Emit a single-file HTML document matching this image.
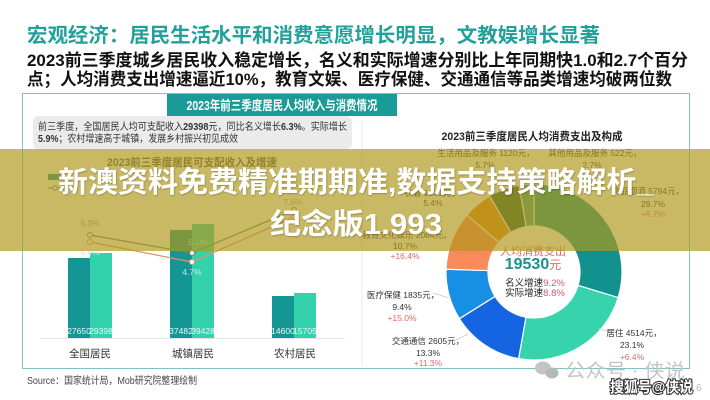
<!DOCTYPE html>
<html>
<head>
<meta charset="utf-8">
<style>
  html,body{margin:0;padding:0;background:#fff;}
  body{width:710px;height:400px;overflow:hidden;}
  svg{display:block;}
  text{font-family:"Liberation Sans","Noto Sans CJK SC",sans-serif;}
</style>
</head>
<body>
<svg width="710" height="400" viewBox="0 0 710 400" xmlns="http://www.w3.org/2000/svg">
  <defs>
    <filter id="sh" x="-5%" y="-20%" width="110%" height="140%">
      <feDropShadow dx="0.6" dy="0.8" stdDeviation="0.8" flood-color="#000" flood-opacity="0.3"/>
    </filter>
  </defs>
  <rect x="0" y="0" width="710" height="400" fill="#ffffff"/>

  <!-- Title -->
  <text x="27" y="42" font-size="20" font-weight="bold" fill="#22a09a" textLength="573" lengthAdjust="spacingAndGlyphs">宏观经济：居民生活水平和消费意愿增长明显，文教娱增长显著</text>
  <text x="27" y="66" font-size="17" font-weight="bold" fill="#111" textLength="661" lengthAdjust="spacingAndGlyphs">2023前三季度城乡居民收入稳定增长，名义和实际增速分别比上年同期快1.0和2.7个百分</text>
  <text x="27" y="85" font-size="17" font-weight="bold" fill="#111" textLength="645" lengthAdjust="spacingAndGlyphs">点；人均消费支出增速逼近10%，教育文娱、医疗保健、交通通信等品类增速均破两位数</text>

  <!-- Main box -->
  <rect x="22.5" y="93.5" width="667" height="275" fill="none" stroke="#7fc2c3" stroke-width="1"/>
  <rect x="167" y="94" width="230" height="22" fill="#1a9b98"/>
  <text x="282" y="110" font-size="13" font-weight="bold" fill="#fff" text-anchor="middle" textLength="191" lengthAdjust="spacingAndGlyphs">2023年前三季度居民人均收入与消费情况</text>

  <!-- Gray note box -->
  <rect x="33" y="116" width="319" height="33" rx="5" fill="#ebebeb"/>
  <text x="38" y="130" font-size="10" fill="#333" textLength="309" lengthAdjust="spacingAndGlyphs">前三季度，全国居民人均可支配收入<tspan font-weight="bold">29398</tspan>元，同比名义增长<tspan font-weight="bold">6.3%</tspan>。实际增长</text>
  <text x="38" y="142" font-size="10" fill="#333" textLength="200" lengthAdjust="spacingAndGlyphs"><tspan font-weight="bold">5.9%</tspan>；农村增速高于城镇，发展乡村振兴初见成效</text>

  <!-- Left chart -->
  <text x="192" y="166" font-size="11" font-weight="bold" fill="#555" text-anchor="middle" textLength="170" lengthAdjust="spacingAndGlyphs">2023前三季度居民可支配收入及增速</text>
  <rect x="48" y="174" width="13" height="6" fill="#139694"/>
  <line x1="48" y1="188" x2="62" y2="188" stroke="#6a8a68" stroke-width="1.2"/>
  <circle cx="55" cy="188" r="2.3" fill="#fff" stroke="#6a8a68" stroke-width="1"/>

  <line x1="40" y1="338.5" x2="345" y2="338.5" stroke="#e6e6e6" stroke-width="1"/>
  <!-- bars -->
  <rect x="68" y="258" width="22" height="80" fill="#149794"/>
  <rect x="90" y="253" width="22" height="85" fill="#34d1ad"/>
  <rect x="170" y="230" width="22" height="108" fill="#149794"/>
  <rect x="192" y="224" width="22" height="114" fill="#34d1ad"/>
  <rect x="272" y="296" width="22" height="42" fill="#149794"/>
  <rect x="294" y="293" width="22" height="45" fill="#34d1ad"/>
  <g font-size="8.5" fill="#e8fbf6" text-anchor="middle">
    <text x="79" y="334">27650</text>
    <text x="101" y="334">29398</text>
    <text x="181" y="334">37482</text>
    <text x="203" y="334">39428</text>
    <text x="283" y="334">14600</text>
    <text x="305" y="334">15705</text>
  </g>
  <g font-size="10.5" fill="#333" text-anchor="middle">
    <text x="90" y="357">全国居民</text>
    <text x="193" y="357">城镇居民</text>
    <text x="295" y="357">农村居民</text>
  </g>
  <!-- lines -->
  <polyline points="90,235 192,253 294,210" fill="none" stroke="#6a8a68" stroke-width="1.3"/>
  <polyline points="90,242 192,262 294,217" fill="none" stroke="#e0956a" stroke-width="1.3"/>
  <g fill="#fff" stroke-width="1">
    <circle cx="90" cy="235" r="2.5" stroke="#6a8a68"/>
    <circle cx="192" cy="253" r="2.5" stroke="#6a8a68"/>
    <circle cx="294" cy="210" r="2.5" stroke="#6a8a68"/>
    <circle cx="90" cy="242" r="2.5" stroke="#e0956a"/>
    <circle cx="192" cy="262" r="2.5" stroke="#e0956a"/>
    <circle cx="294" cy="217" r="2.5" stroke="#e0956a"/>
  </g>
  <g font-size="8.5" text-anchor="middle">
    <text x="90" y="226" fill="#999">6.3%</text>
    <text x="90" y="255" fill="#bfe9e3">5.9%</text>
    <text x="198" y="245" fill="#bfe9e3">5.1%</text>
    <text x="192" y="275" fill="#bfe9e3">4.7%</text>
    <text x="293" y="205" fill="#999">7.6%</text>
  </g>

  <!-- Right chart -->
  <line x1="362" y1="120" x2="362" y2="366" stroke="#ececec" stroke-width="1"/>
  <text x="532" y="140" font-size="11" font-weight="bold" fill="#222" text-anchor="middle" textLength="181" lengthAdjust="spacingAndGlyphs">2023前三季度居民人均消费支出及构成</text>

  <g stroke="#fff" stroke-width="1.2">
    <path d="M534,184 A88,88 0 0 1 618.19,297.61 L578.01,285.39 A46,46 0 0 0 534,226 Z" fill="#12928f"/>
    <path d="M618.19,297.61 A88,88 0 0 1 518.60,358.64 L525.95,317.29 A46,46 0 0 0 578.01,285.39 Z" fill="#36d3ad"/>
    <path d="M518.60,358.64 A88,88 0 0 1 459.40,318.68 L495.01,296.40 A46,46 0 0 0 525.95,317.29 Z" fill="#1565e2"/>
    <path d="M459.40,318.68 A88,88 0 0 1 446.04,269.24 L488.02,270.56 A46,46 0 0 0 495.01,296.40 Z" fill="#178fe2"/>
    <path d="M446.04,269.24 A88,88 0 0 1 466.92,215.06 L498.93,242.23 A46,46 0 0 0 488.02,270.56 Z" fill="#fb8a5a"/>
    <path d="M466.92,215.06 A88,88 0 0 1 489.68,195.98 L510.83,232.26 A46,46 0 0 0 498.93,242.23 Z" fill="#e6871a"/>
    <path d="M489.68,195.98 A88,88 0 0 1 519.15,185.27 L526.24,226.66 A46,46 0 0 0 510.83,232.26 Z" fill="#1f5e3e"/>
    <path d="M519.15,185.27 A88,88 0 0 1 534,184 L534,226 A46,46 0 0 0 526.24,226.66 Z" fill="#3f9e7e"/>
  </g>

  <!-- center texts -->
  <text x="533" y="255" font-size="11" fill="#e06a64" text-anchor="middle">人均消费支出</text>
  <text x="533" y="269" font-size="16" font-weight="bold" fill="#1d8f8f" text-anchor="middle">19530<tspan font-size="12" font-weight="normal" fill="#e06a64">元</tspan></text>
  <text x="535" y="286" font-size="9.5" fill="#222" text-anchor="middle">名义增速<tspan fill="#d05a6a">9.2%</tspan></text>
  <text x="535" y="296" font-size="9.5" fill="#222" text-anchor="middle">实际增速<tspan fill="#d05a6a">8.8%</tspan></text>

  <!-- leader lines -->
  <g stroke="#c8c8c8" stroke-width="0.7" fill="none">
    <polyline points="612,333 598,328"/>
    <polyline points="456,340 468,334"/>
    <polyline points="433,293 449,298"/>
    <polyline points="620,190 606,200"/>
  </g>

  <!-- labels -->
  <g font-size="8.5" fill="#333" text-anchor="middle">
    <text x="486" y="156">生活用品及服务 1120元，</text>
    <text x="485" y="168">5.7%</text>
    <text x="595" y="156">其他用品及服务 522元，</text>
    <text x="592" y="168">2.7%</text>
    <text x="432" y="196">衣着 1061元，</text>
    <text x="433" y="206">5.4%</text>
    <text x="648" y="194">食品烟酒 5794元，</text>
    <text x="653" y="207">29.7%</text>
    <text x="653" y="217" fill="#e06a6a">+6.7%</text>
    <text x="407" y="238">教育文化娱乐 2084元，</text>
    <text x="405" y="249">10.7%</text>
    <text x="405" y="259" fill="#e06a6a">+16.4%</text>
    <text x="403" y="298">医疗保健 1835元，</text>
    <text x="402" y="310">9.4%</text>
    <text x="402" y="321" fill="#e06a6a">+15.0%</text>
    <text x="428" y="344">交通通信 2605元，</text>
    <text x="428" y="356">13.3%</text>
    <text x="428" y="366" fill="#e06a6a">+11.3%</text>
    <text x="634" y="336">居住 4514元，</text>
    <text x="632" y="348">23.1%</text>
    <text x="632" y="360" fill="#e06a6a">+6.4%</text>
  </g>

  <!-- Source -->
  <text x="27" y="384" font-size="10" fill="#444" textLength="170" lengthAdjust="spacingAndGlyphs">Source：国家统计局，Mob研究院整理绘制</text>

  <!-- watermark -->
  <g fill="#c4c4c4">
    <ellipse cx="543" cy="368" rx="8" ry="6.5"/>
    <ellipse cx="552" cy="373" rx="6.5" ry="5.5" fill="#b8b8b8"/>
  </g>
  <text x="565" y="377" font-size="19" fill="#c4c4c4" textLength="120" lengthAdjust="spacingAndGlyphs">公众号 · 侠说</text>
  <text x="610" y="392" font-size="15" font-weight="bold" fill="#fff" stroke="#333" stroke-width="2.2" paint-order="stroke" textLength="83" lengthAdjust="spacingAndGlyphs">搜狐号@侠说</text>
  <text x="696" y="391" font-size="10" fill="#bbb">6</text>

  <!-- Overlay band -->
  <rect x="0" y="149" width="710" height="102" fill="rgb(176,152,26)" fill-opacity="0.68"/>
  <g filter="url(#sh)">
    <text x="58" y="192" font-size="29" font-weight="bold" fill="#fff" textLength="595" lengthAdjust="spacingAndGlyphs">新澳资料免费精准期期准,数据支持策略解析_</text>
    <text x="270" y="234" font-size="29" font-weight="bold" fill="#fff" textLength="172" lengthAdjust="spacingAndGlyphs">纪念版1.993</text>
  </g>
</svg>
</body>
</html>
